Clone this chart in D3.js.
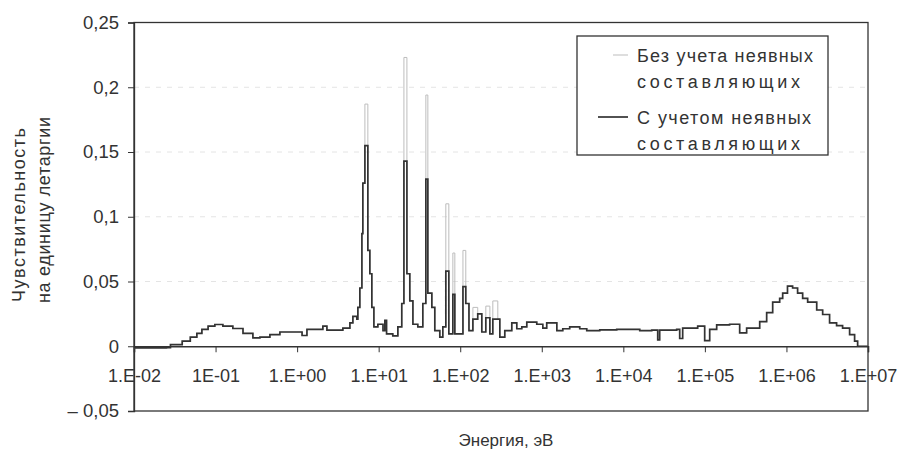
<!DOCTYPE html>
<html>
<head>
<meta charset="utf-8">
<script src="https://cdn.jsdelivr.net/npm/d3@7"></script>
<style>
  body { margin: 0; background: #fff; }
  svg { font-family: "Liberation Sans", Arial, sans-serif; fill: #333; }
</style>
</head>
<body>
<svg id="chart" width="903" height="453"></svg>
<script>
// energy group boundaries, eV
const energy = [
  0.01, 0.025, 0.028, 0.037, 0.039, 0.049, 0.059, 0.068, 0.081, 0.098,
  0.123, 0.163, 0.217, 0.287, 0.35, 0.464, 0.615, 0.994, 1.15, 1.32,
  1.9, 2.07, 2.32, 3.07, 3.64, 4.44, 4.83, 5.4, 5.56, 5.88,
  6.23, 6.4, 6.78, 7.37, 7.8, 8.25, 8.74, 9.78, 11.3, 11.9,
  12.5, 14.9, 17.2, 19.2, 20.4, 22.2, 24.1, 26.3, 30.2, 34.8,
  37.9, 40.1, 44.9, 48.8, 56.2, 61.2, 66.6, 72.5, 81.2, 85.9,
  108, 117, 128, 143, 164, 184, 206, 231, 251, 289,
  306, 352, 429, 494, 569, 655, 868, 1030, 1150, 1530,
  1810, 2200, 2920, 3560, 5140, 8300, 15900, 22300, 26400, 27900,
  45100, 49100, 53400, 81600, 99400, 114500, 139500, 201000, 267000, 325000,
  431000, 470000, 572000, 678000, 826000, 899000, 1.03e6, 1.19e6, 1.37e6, 1.58e6,
  1.82e6, 2.35e6, 2.78e6, 3.38e6, 4.12e6, 4.88e6, 5.95e6, 6.85e6, 7.46e6, 1e7
];

// с учетом неявных составляющих
const withImplicit = [
  -0.0012, -0.001, 0.0012, 0.0013, 0.004, 0.007, 0.010, 0.013, 0.0155, 0.0168,
  0.0155, 0.0137, 0.010, 0.0065, 0.007, 0.009, 0.011, 0.011, 0.0083, 0.013,
  0.013, 0.0155, 0.0124, 0.0124, 0.014, 0.018, 0.023, 0.021, 0.030, 0.045,
  0.087, 0.126, 0.155, 0.074, 0.056, 0.030, 0.015, 0.017, 0.012, 0.020,
  0.0095, 0.008, 0.015, 0.033, 0.143, 0.056, 0.035, 0.017, 0.015, 0.033,
  0.129, 0.041, 0.030, 0.012, 0.007, 0.015, 0.058, 0.0095, 0.040, 0.0095,
  0.046, 0.033, 0.012, 0.021, 0.025, 0.011, 0.022, 0.0095, 0.021, 0.021,
  0.007, 0.012, 0.018, 0.0135, 0.015, 0.0186, 0.017, 0.014, 0.018, 0.012,
  0.0135, 0.015, 0.0135, 0.012, 0.0127, 0.013, 0.012, 0.0125, 0.005, 0.0125,
  0.013, 0.006, 0.014, 0.0155, 0.0044, 0.013, 0.0165, 0.017, 0.0103, 0.014,
  0.014, 0.019, 0.026, 0.034, 0.037, 0.041, 0.0465, 0.045, 0.041, 0.037,
  0.034, 0.028, 0.0245, 0.018, 0.016, 0.014, 0.009, 0.004, 0, 0
];

// без учета неявных составляющих: same except in the resonances
const withoutImplicit = withImplicit.slice();
const resonanceEnergy = [6.78, 20.4, 37.9, 66.6, 81.2, 108, 143, 206, 251];
const resonanceValue = [0.187, 0.223, 0.194, 0.110, 0.072, 0.074, 0.030, 0.031, 0.035];
resonanceEnergy.forEach((e, i) => { withoutImplicit[energy.indexOf(e)] = resonanceValue[i]; });

const xTicks = [1e-2, 1e-1, 1e0, 1e1, 1e2, 1e3, 1e4, 1e5, 1e6, 1e7];
const xTickLabels = ["1.E-02", "1E-01", "1.E+00", "1.E+01", "1.E+02", "1.E+03", "1.E+04", "1.E+05", "1.E+06", "1.E+07"];
const yTicks = [-0.05, 0, 0.05, 0.1, 0.15, 0.2, 0.25];
const yTickLabels = ["\u2013 0,05", "0", "0,05", "0,1", "0,15", "0,2", "0,25"];

const svg = d3.select("#chart");
const plotLeft = 134, plotRight = 868, plotTop = 22.5, plotBottom = 411;
const ink = "#333";

const x = d3.scaleLog().domain([1e-2, 1e7]).range([plotLeft, plotRight]);
const y = d3.scaleLinear().domain([-0.05, 0.25]).range([plotBottom, plotTop]);

// faint dashed gridlines
svg.append("g")
  .selectAll("line")
  .data(yTicks.filter(d => d > 0 && d < 0.25))
  .join("line")
  .attr("x1", plotLeft).attr("x2", plotRight)
  .attr("y1", d => y(d)).attr("y2", d => y(d))
  .attr("stroke", "#e4e4e4")
  .attr("stroke-dasharray", "5,6");

// plot frame
svg.append("rect")
  .attr("x", plotLeft).attr("y", plotTop)
  .attr("width", plotRight - plotLeft).attr("height", plotBottom - plotTop)
  .attr("fill", "none")
  .attr("stroke", ink)
  .attr("stroke-width", 1.3);

// y axis
const yAxis = svg.append("g")
  .attr("transform", `translate(${plotLeft},0)`)
  .call(d3.axisLeft(y).tickValues(yTicks).tickSize(6).tickPadding(9)
    .tickFormat((d, i) => yTickLabels[i]));
yAxis.select(".domain").attr("stroke", ink).attr("stroke-width", 1.3);
yAxis.selectAll(".tick line").attr("stroke", ink);
yAxis.selectAll("text").attr("font-size", 18.5).attr("fill", ink)
  .attr("font-family", "Liberation Sans, Arial, sans-serif");

// x axis crosses at zero
const xAxis = svg.append("g")
  .attr("transform", `translate(0,${y(0)})`)
  .call(d3.axisBottom(x).tickValues(xTicks).tickSize(6).tickPadding(17)
    .tickFormat((d, i) => xTickLabels[i]));
xAxis.select(".domain").attr("stroke", ink).attr("stroke-width", 1.6);
xAxis.selectAll(".tick line").attr("stroke", ink);
xAxis.selectAll("text").attr("font-size", 18).attr("fill", ink)
  .attr("font-family", "Liberation Sans, Arial, sans-serif");

// series
const line = (vals) => d3.line()
  .x((d, i) => x(energy[i]))
  .y(d => y(d))
  .curve(d3.curveStepAfter)(vals);

svg.append("path")
  .attr("d", line(withoutImplicit))
  .attr("fill", "none")
  .attr("stroke", "#bdbdbd")
  .attr("stroke-width", 1);

svg.append("path")
  .attr("d", line(withImplicit))
  .attr("fill", "none")
  .attr("stroke", ink)
  .attr("stroke-width", 1.7);

// axis titles
svg.append("text")
  .attr("x", 506).attr("y", 446)
  .attr("text-anchor", "middle")
  .attr("font-size", 17)
  .text("Энергия, эВ");

const yTitleLines = [
  { text: "Чувствительность", cx: 25, cy: 215, len: 174 },
  { text: "на единицу летаргии", cx: 50, cy: 210, len: 186 }
];
yTitleLines.forEach(l => {
  svg.append("text")
    .attr("transform", `translate(${l.cx},${l.cy}) rotate(-90)`)
    .attr("text-anchor", "middle")
    .attr("font-size", 18)
    .attr("textLength", l.len)
    .attr("lengthAdjust", "spacing")
    .text(l.text);
});

// legend
const legend = svg.append("g").attr("transform", "translate(577,36)");
legend.append("rect")
  .attr("width", 251).attr("height", 119)
  .attr("fill", "#fff")
  .attr("stroke", ink)
  .attr("stroke-width", 1.3);

const legendItems = [
  { lines: ["Без учета неявных", "составляющих"], lens: [176, 163], color: "#bdbdbd", width: 1, x1: 36, y: 19 },
  { lines: ["С учетом неявных", "составляющих"], lens: [174, 163], color: ink, width: 1.7, x1: 21, y: 81 }
];
legendItems.forEach(item => {
  legend.append("line")
    .attr("x1", item.x1).attr("x2", 51)
    .attr("y1", item.y).attr("y2", item.y)
    .attr("stroke", item.color)
    .attr("stroke-width", item.width);
  item.lines.forEach((t, j) => {
    legend.append("text")
      .attr("x", 60).attr("y", item.y + 6.5 + j * 26)
      .attr("font-size", 18)
      .attr("textLength", item.lens[j])
      .attr("lengthAdjust", "spacing")
      .text(t);
  });
});
</script>
</body>
</html>
